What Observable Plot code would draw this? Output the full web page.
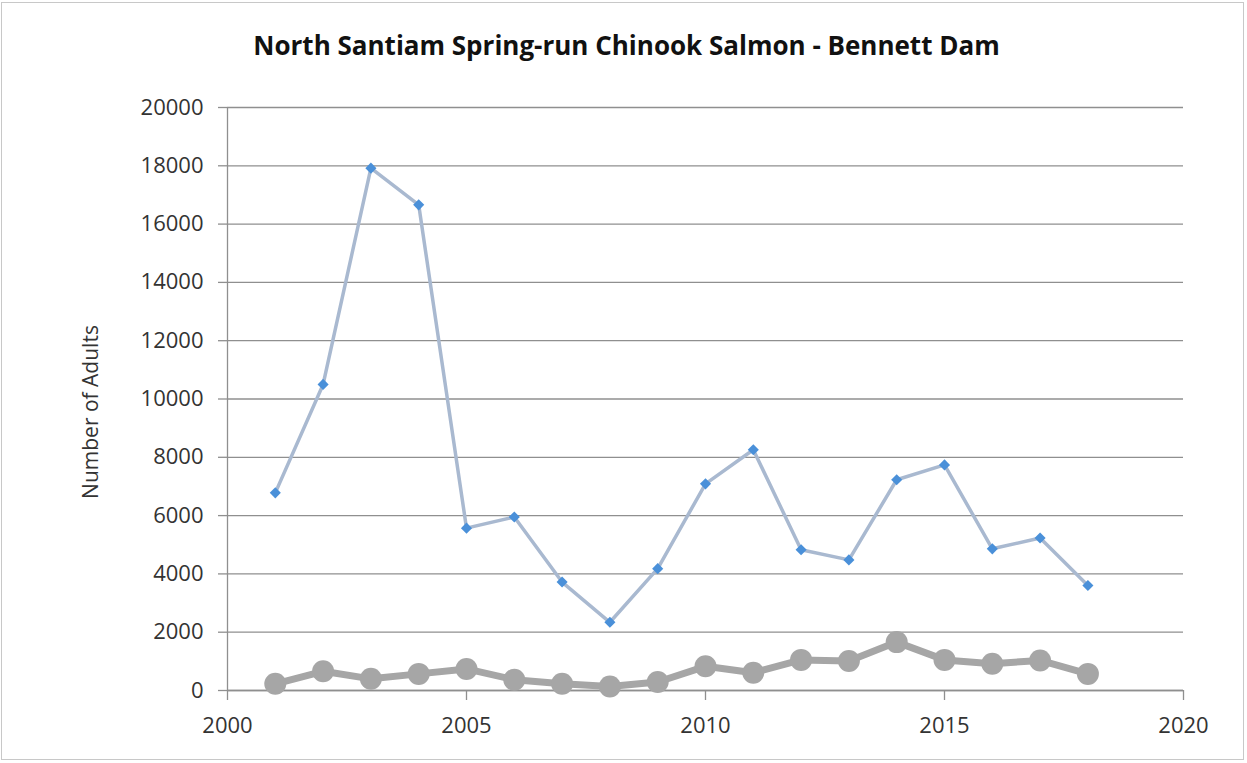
<!DOCTYPE html>
<html>
<head>
<meta charset="utf-8">
<script src="https://cdn.jsdelivr.net/npm/d3@7"></script>
<script src="https://cdn.jsdelivr.net/npm/@observablehq/plot@0.6"></script>
<style>
  html, body { margin: 0; padding: 0; background: #fff; }
  #wrap { position: relative; width: 1247px; height: 763px; overflow: hidden; }
  #frame { position: absolute; left: 1px; top: 2px; width: 1243px; height: 758px; border: 1px solid #c8c8c8; box-sizing: border-box; pointer-events: none; }
  #title { height: 90px; display: flex; align-items: center; justify-content: center; font-family: "Open Sans", sans-serif; font-weight: bold; font-size: 26px; color: #111; padding-left: 6px; box-sizing: border-box; }
  svg { display: block; }
</style>
</head>
<body>
<div id="wrap">
  <div id="frame"></div>
  <div id="title">North Santiam Spring-run Chinook Salmon - Bennett Dam</div>
  <div id="chart"></div>
</div>
<script>
// Data
const years = [2001, 2002, 2003, 2004, 2005, 2006, 2007, 2008, 2009, 2010, 2011, 2012, 2013, 2014, 2015, 2016, 2017, 2018];
const adultsAtDam = [6780, 10500, 17920, 16660, 5570, 5950, 3720, 2340, 4180, 7090, 8260, 4830, 4480, 7230, 7740, 4860, 5230, 3600];
const adultsLower = [230, 660, 400, 570, 740, 370, 230, 140, 290, 830, 610, 1050, 1010, 1660, 1050, 920, 1030, 570];
const yTicks = [0, 2000, 4000, 6000, 8000, 10000, 12000, 14000, 16000, 18000, 20000];
const xTicks = [2000, 2005, 2010, 2015, 2020];
const yLabel = "Number of Adults";

const blueData = years.map((y, i) => ({year: y, value: adultsAtDam[i]}));
const grayData = years.map((y, i) => ({year: y, value: adultsLower[i]}));

const gridColor = "#8f8f8f";
const textColor = "#333333";

const chart = Plot.plot({
  width: 1247,
  height: 673,
  marginLeft: 227,
  marginRight: 64,
  marginTop: 17,
  marginBottom: 73,
  x: {domain: [2000, 2020]},
  y: {domain: [0, 20000]},
  style: {fontFamily: "Open Sans, sans-serif", fontSize: "22px", color: textColor, background: "transparent", overflow: "visible"},
  marks: [
    Plot.gridY(yTicks, {stroke: gridColor, strokeOpacity: 1, strokeWidth: 1.3}),
    Plot.axisY(yTicks, {tickSize: 9, tickPadding: 15, tickFormat: d => String(d), stroke: gridColor, strokeWidth: 1.3, fill: textColor, label: null}),
    Plot.axisX(xTicks, {tickSize: 10, tickPadding: 17, tickFormat: d => String(d), stroke: gridColor, strokeWidth: 1.3, fill: textColor, label: null}),
    Plot.ruleX([2000], {stroke: gridColor, strokeWidth: 1.3}),
    Plot.ruleY([0], {stroke: gridColor, strokeWidth: 1.3}),
    Plot.text([yLabel], {frameAnchor: "left", textAnchor: "middle", lineAnchor: "middle", rotate: -90, dx: -136, dy: 13, fontSize: 21, fill: textColor, text: d => d}),
    Plot.line(grayData, {x: "year", y: "value", stroke: "#a6a6a6", strokeWidth: 7, strokeLinejoin: "round"}),
    Plot.dot(grayData, {x: "year", y: "value", r: 11, fill: "#a6a6a6", stroke: "none"}),
    Plot.line(blueData, {x: "year", y: "value", stroke: "#a9b9d0", strokeWidth: 3.5}),
    Plot.dot(blueData, {x: "year", y: "value", symbol: "diamond2", r: 5, fill: "#4a90d9", stroke: "none"})
  ]
});
document.getElementById("chart").appendChild(chart);
</script>
</body>
</html>
